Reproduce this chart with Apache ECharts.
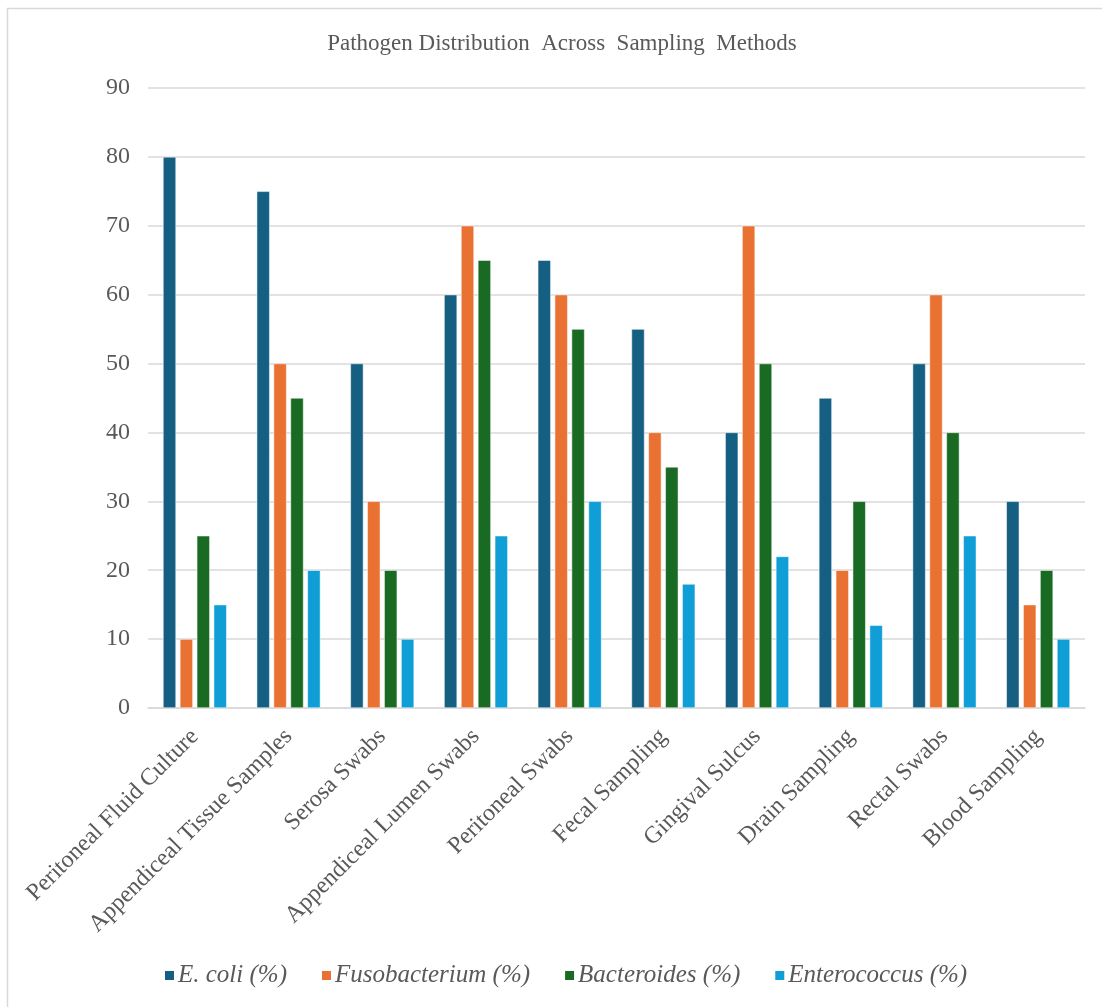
<!DOCTYPE html>
<html><head><meta charset="utf-8">
<script src="https://cdn.jsdelivr.net/npm/echarts@6/dist/echarts.min.js"></script>
<style>html,body{margin:0;padding:0;background:#fff}#c{width:1102px;height:1007px}</style>
</head><body><div id="c"></div>
<script>
const categories = ["Peritoneal Fluid Culture","Appendiceal Tissue Samples","Serosa Swabs","Appendiceal Lumen Swabs","Peritoneal Swabs","Fecal Sampling","Gingival Sulcus","Drain Sampling","Rectal Swabs","Blood Sampling"];
const seriesNames = ["E. coli (%)","Fusobacterium (%)","Bacteroides (%)","Enterococcus (%)"];
const ecoli = [80,75,50,60,65,55,40,45,50,30];
const fuso = [10,50,30,70,60,40,70,20,60,15];
const bacteroides = [25,45,20,65,55,35,50,30,40,20];
const enterococcus = [15,20,10,25,30,18,22,12,25,10];
const colors = ["#156082","#E97132","#196B24","#0F9ED5"];
const values = [ecoli, fuso, bacteroides, enterococcus];
const font = "'Liberation Serif','Times New Roman',serif";
const chart = echarts.init(document.getElementById('c'));
chart.setOption({
  animation:false,
  color: colors,
  graphic:[{type:'rect',shape:{x:7.5,y:8.5,width:1200,height:1100},style:{fill:'none',stroke:'#d9d9d9',lineWidth:1.5},silent:true}],
  title:{text:'Pathogen Distribution  Across  Sampling  Methods',left:557,textAlign:'center',top:27,
    textStyle:{fontFamily:font,fontSize:23,fontWeight:'normal',color:'#595959'}},
  legend:{bottom:14,left:158,itemWidth:11,itemHeight:11,itemGap:33,icon:'rect',
    textStyle:{fontFamily:font,fontSize:25,fontStyle:'italic',color:'#595959',padding:[0,0,0,-2]}},
  grid:{left:148,right:17,top:88,bottom:299,containLabel:false},
  xAxis:{type:'category',data:categories,
    axisLine:{lineStyle:{color:'#d9d9d9',width:1.5}},axisTick:{show:false},
    axisLabel:{rotate:45,interval:0,fontFamily:font,fontSize:24,color:'#595959',margin:25}},
  yAxis:{type:'value',min:0,max:90,interval:10,
    axisLine:{show:false},axisTick:{show:false},
    splitLine:{lineStyle:{color:'#d9d9d9',width:1.5}},
    axisLabel:{fontFamily:font,fontSize:24,color:'#595959',margin:18}},
  series: seriesNames.map((n,i)=>({name:n,type:'bar',data:values[i],barWidth:13,barGap:'30%',
    itemStyle:{borderColor:'#fff',borderWidth:0.5}}))
});
</script></body></html>
